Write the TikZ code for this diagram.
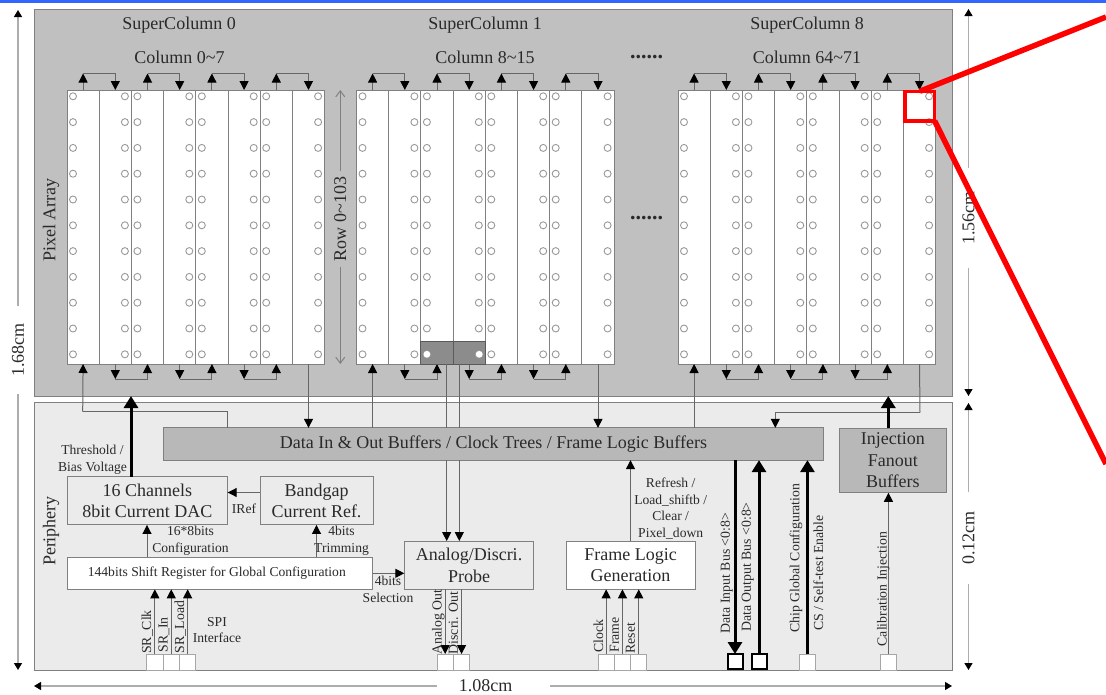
\documentclass[tikz,border=0pt]{standalone}
\usepackage{fontspec}
\setmainfont{Liberation Serif}
\usetikzlibrary{positioning,arrows.meta}
\definecolor{arraygray}{HTML}{C0C0C0}
\definecolor{perigray}{HTML}{EBEBEB}
\definecolor{bufgray}{HTML}{B8B8B8}
\definecolor{gategray}{HTML}{8C8C8C}
\definecolor{edgegray}{HTML}{808080}
\definecolor{pingray}{HTML}{999999}
\definecolor{inkgray}{HTML}{2A2A2A}
\definecolor{linkblue}{HTML}{3366FF}
\newcommand{\fsz}[1]{\fontsize{#1}{#1}\selectfont}
\tikzset{
  every node/.style={outer sep=0pt, inner sep=0pt, text=inkgray},
  region/.style={draw=edgegray, line width=1pt},
  colbox/.style={draw=edgegray, fill=white, line width=1pt, minimum width=32.2pt, minimum height=274pt},
  gatebox/.style={draw=edgegray!70!black, fill=gategray, line width=1pt, minimum width=32.2pt, minimum height=23pt},
  pin/.style={draw=pingray, fill=white, line width=0.9pt},
  block/.style={draw=edgegray, line width=1pt, align=center, font=\fontsize{18}{21.6}\selectfont, fill=perigray},
  pad/.style={draw=edgegray!70, fill=white, line width=1pt, minimum width=16.3pt, minimum height=16pt},
  buspad/.style={draw=black, fill=white, line width=2pt, minimum width=15pt, minimum height=15pt},
  wire/.style={draw=edgegray!80!black, line width=1pt, -{Triangle[length=9pt,width=9pt,black]}},
  plain wire/.style={draw=edgegray!80!black, line width=1pt},
  bus/.style={draw=black, line width=3pt, -{Triangle[length=12pt,width=14pt,black]}},
  dim/.style={draw=black!32, line width=1.2pt, -{Triangle[length=7pt,width=8pt,black]}},
  small/.style={font=\fontsize{13.6}{16.6}\selectfont, align=center},
  vsmall/.style={font=\fsz{13.8}, rotate=90},
  big/.style={font=\fsz{18}},
}
\begin{document}
\begin{tikzpicture}[x=1pt,y=-1pt]
\useasboundingbox (0,0) rectangle (1106,694);
\fill[linkblue] (0,0) rectangle (1106,3);

% two regions of the chip
\node[region, fill=arraygray, minimum width=918pt, minimum height=387pt] (array) at (493,202.5) {};
\node[region, fill=perigray, minimum width=918pt, minimum height=268pt, below=6pt of array] (periphery) {};

% blocks of the periphery
\node[block, fill=bufgray, minimum width=660.4pt, minimum height=32.3pt, right=129.3pt of periphery.north west, yshift=-42pt] (buffers) {Data In \& Out Buffers / Clock Trees / Frame Logic Buffers};
\node[block, fill=bufgray, minimum width=106.3pt, minimum height=64.7pt, right=805.7pt of periphery.north west, yshift=-58.4pt] (fanout) {Injection\\Fanout\\Buffers};
\node[block, minimum width=160.7pt, minimum height=48.3pt, right=33pt of periphery.north west, yshift=-98.8pt] (dac) {16 Channels\\8bit Current DAC};
\node[block, minimum width=113pt, minimum height=48.3pt, right=226pt of periphery.north west, yshift=-98.8pt] (bandgap) {Bandgap\\Current Ref.};
\node[block, fill=white, minimum width=305.6pt, minimum height=32pt, font=\fsz{13.6}, right=33pt of periphery.north west, yshift=-171.3pt] (shiftreg) {144bits Shift Register for Global Configuration\hspace{6pt}};
\node[block, minimum width=129.4pt, minimum height=48.3pt, right=370.3pt of periphery.north west, yshift=-163.2pt] (probe) {Analog/Discri.\\Probe};
\node[block, fill=white, minimum width=129pt, minimum height=48.3pt, right=532pt of periphery.north west, yshift=-163.2pt] (framelogic) {Frame Logic\\Generation};

% pads on the lower edge
\foreach \name/\off in {padClk/112.7,padIn/129.1,padLoad/145.5,padAna/403,padDis/419.4,padClock/564,padFrame/580.3,padReset/596.6,padChip/765.3,padCal/846.3}
  \node[pad, right=\off pt of periphery.south west, yshift=8pt] (\name) {};
\node[buspad, right=693.5pt of periphery.south west, yshift=8.5pt] (padDin) {};
\node[buspad, right=717.5pt of periphery.south west, yshift=8.5pt] (padDout) {};

% super columns, columns and pixels
\foreach \s/\sx in {0/67,1/356.5,8/678}{
  \foreach \i in {0,...,7}
    \node[colbox] (c\s-\i) at ({\sx+16.1+32.2*\i},227) {};
  \foreach \j in {0,...,3}{
    \coordinate (up\s-\j) at ([yshift=16.5pt]c\s-\number\numexpr2*\j\relax.north);
    \draw[wire] (c\s-\number\numexpr2*\j\relax.north) -- (up\s-\j);
    \draw[wire] (up\s-\j) -| (c\s-\number\numexpr2*\j+1\relax.north);
  }
  \foreach \j in {1,2,3}{
    \coordinate (lo\s-\j) at ([yshift=-15pt]c\s-\number\numexpr2*\j-1\relax.south);
    \draw[wire] (c\s-\number\numexpr2*\j-1\relax.south) -- (lo\s-\j);
    \draw[wire] (lo\s-\j) -| (c\s-\number\numexpr2*\j\relax.south);
  }
}
\node[gatebox, anchor=south] (gateL) at (c1-2.south) {};
\node[gatebox, anchor=south] (gateR) at (c1-3.south) {};
\foreach \s/\sx in {0/67,1/356.5,8/678}
  \foreach \j in {0,...,3}
    \foreach \r in {0,...,10}{
      \draw[pin] ({\sx+6+64.4*\j},{96.3+25.8*\r}) circle (3.5);
      \draw[pin] ({\sx+57.9+64.4*\j},{96.3+25.8*\r}) circle (3.5);
    }
\fill[white] (c1-2.south west) ++(6,-9.7) circle (3.4);
\fill[white] (c1-3.south east) ++(-6,-9.7) circle (3.4);

% titles of the array
\node[big] (title0) at (179,25) {SuperColumn 0};
\node[big] (title1) at (485,25) {SuperColumn 1};
\node[big] (title8) at (807,25) {SuperColumn 8};
\node[big] (range0) at (179.5,57) {Column 0\textasciitilde 7};
\node[big] (range1) at (485,57) {Column 8\textasciitilde 15};
\node[big] (range8) at (807,57) {Column 64\textasciitilde 71};
\node[font=\bfseries\fsz{22}] (dotsA) at (646.5,57) {......};
\node[font=\bfseries\fsz{22}] (dotsB) at (646.5,218) {......};
\node[big, rotate=90] (arrayname) at (51,220) {Pixel Array};
\node[big, rotate=90] (periname) at (51,531) {Periphery};
\node[big, rotate=90, inner xsep=6pt] (rowname) at (340.3,219) {Row 0\textasciitilde 103};
\coordinate (rowtop) at (340.3,90);
\coordinate (rowend) at (340.3,364);
\draw[draw=edgegray, line width=1pt, -{Straight Barb[length=6pt,width=9pt]}] (rowname.east) -- (rowtop);
\draw[draw=edgegray, line width=1pt, -{Straight Barb[length=6pt,width=9pt]}] (rowname.west) -- (rowend);

% array to buffers
\coordinate (bendA) at (82.7,411.7);
\coordinate (bendB) at (920,412.3);
\draw[plain wire] (buffers.north -| 227.3,0) |- (bendA);
\draw[wire] (bendA) -- (c0-0.south);
\draw[wire] (c0-7.south) -- (c0-7.south |- buffers.north);
\draw[wire] (buffers.north -| c1-0.south) -- (c1-0.south);
\draw[wire] (c1-7.south) -- (c1-7.south |- buffers.north);
\draw[wire] (buffers.north -| c8-0.south) -- (c8-0.south);
\draw[plain wire] (c8-7.south) -- (bendB);
\draw[wire] (bendB) -| (buffers.north -| 775.3,0);

% probe lines
\draw[plain wire] ([xshift=9.5pt]gateL.south) -- ([xshift=9.5pt]gateL.south |- buffers.north);
\draw[plain wire] ([xshift=-9.9pt]gateR.south) -- ([xshift=-9.9pt]gateR.south |- buffers.north);
\draw[wire] (446.7,0 |- buffers.south) -- (446.7,0 |- probe.north);
\draw[wire] (459.3,0 |- buffers.south) -- (459.3,0 |- probe.north);

% connections of the periphery
\draw[bus] (dac.north -| 131,0) -- (array.south -| 131,0);
\draw[bus] (fanout.north -| 888.3,0) -- (array.south -| 888.3,0);
\draw[wire] ([yshift=8.3pt]bandgap.west) -- ([yshift=8.3pt]dac.east);
\draw[wire] (shiftreg.north -| 147,0) -- (dac.south -| 147,0);
\draw[wire] (shiftreg.north -| bandgap.south) -- (bandgap.south);
\draw[wire] (shiftreg.east) -- (probe.west |- shiftreg.east);
\draw[wire] (framelogic.north) -- (framelogic.north |- buffers.south);
\draw[wire] (padCal.north) -- (padCal.north |- fanout.south);
\draw[bus] (buffers.south -| padDin.north) -- (padDin.north);
\draw[bus] (padDout.north) -- (padDout.north |- buffers.south);
\draw[bus] (padChip.north) -- (padChip.north |- buffers.south);
\foreach \n in {padClk,padIn,padLoad}
  \draw[wire] (\n.north) -- (\n.north |- shiftreg.south);
\foreach \n in {padClock,padFrame,padReset}
  \draw[wire] (\n.north) -- (\n.north |- framelogic.south);
\foreach \n in {padAna,padDis}
  \draw[wire] (\n.north |- probe.south) -- (\n.north);

% labels of the periphery
\node[small] (lblThr) at (92.5,460) {Threshold /\\Bias Voltage};
\node[small] (lblIref) at (244,509) {IRef};
\node[small] (lblCfg) at (190.5,541) {16*8bits\\Configuration};
\node[small] (lblTrim) at (341.5,541) {4bits\\Trimming};
\node[small] (lblSel) at (388,589.5) {4bits\\Selection};
\node[small] (lblSpi) at (217,630) {SPI\\Interface};
\node[small] (lblRef) at (670.7,508.5) {Refresh /\\Load\_shiftb /\\Clear /\\Pixel\_down};
\node[vsmall] (lblClk) at (147.3,632) {SR\_Clk};
\node[vsmall] (lblIn) at (164,635) {SR\_In};
\node[vsmall] (lblLoad) at (180.3,627) {SR\_Load};
\node[vsmall] (lblAna) at (438.3,622) {Analog Out};
\node[vsmall] (lblDis) at (453.3,623) {Discri. Out};
\node[vsmall] (lblClock) at (598.3,636) {Clock};
\node[vsmall] (lblFrame) at (614.3,635) {Frame};
\node[vsmall] (lblReset) at (630.3,638) {Reset};
\node[vsmall] (lblDin) at (726.7,573) {Data Input Bus <0:8>};
\node[vsmall] (lblDout) at (747.7,567) {Data Output Bus <0:8>};
\node[vsmall] (lblChip) at (796,558) {Chip Global Configuration};
\node[vsmall] (lblCs) at (818.3,573) {CS / Self-test Enable};
\node[vsmall] (lblCal) at (883.3,589) {Calibration Injection};

% outer dimensions
\node[big, rotate=90, inner xsep=17pt] (dimH) at (18,350) {1.68cm};
\node[big, rotate=90, inner xsep=23pt] (dimA) at (968.5,218) {1.56cm};
\node[big, rotate=90, inner xsep=19pt] (dimP) at (968.5,538) {0.12cm};
\node[big] (dimW) at (485.7,686) {1.08cm};
\coordinate (dimHa) at (18,10);
\coordinate (dimHb) at (18,670);
\coordinate (dimAa) at (968.5,9);
\coordinate (dimAb) at (968.5,396);
\coordinate (dimPa) at (968.5,403);
\coordinate (dimPb) at (968.5,670);
\coordinate (dimWa) at (34,686);
\coordinate (dimWb) at (952,686);
\draw[dim] (dimH.east) -- (dimHa);
\draw[dim] (dimH.west) -- (dimHb);
\draw[dim] (dimA.east) -- (dimAa);
\draw[dim] (dimA.west) -- (dimAb);
\draw[dim] (dimP.east) -- (dimPa);
\draw[dim] (dimP.west) -- (dimPb);
\draw[dim] ([xshift=-22pt]dimW.west) -- (dimWa);
\draw[dim] ([xshift=38pt]dimW.east) -- (dimWb);

% red zoom marker
\node[draw=red, line width=3.5pt, minimum width=29.5pt, minimum height=29.5pt] (zoomrect) at (919.8,106) {};
\coordinate (zoomA) at (1106,17);
\coordinate (zoomB) at (1106,464);
\draw[draw=red, line width=5.5pt] (zoomrect.north) -- (zoomA);
\draw[draw=red, line width=5.5pt] (zoomrect.south east) -- (zoomB);
\end{tikzpicture}
\end{document}
